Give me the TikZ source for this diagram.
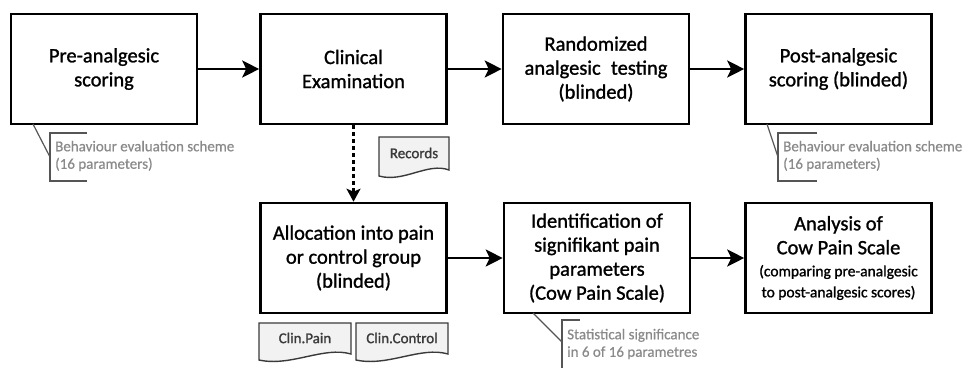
\documentclass[tikz,border=0pt]{standalone}
\usepackage{fontspec}
\setmainfont{Carlito}
\newfontfamily\heavyfont{Carlito}[FakeBold=1.2]
\newfontfamily\midfont{Carlito}[FakeBold=0.6]
\usetikzlibrary{arrows.meta}
\definecolor{anno}{HTML}{8A8A8A}
\definecolor{brk}{HTML}{555555}
\definecolor{docfill}{HTML}{F2F2F2}
\definecolor{docline}{HTML}{3A3A3A}
\newcommand\docpath[4]{%
  \path[draw=docline, fill=docfill, line width=1.4pt]
    (#1,#2) -- (#3,#2) -- (#3,{#4+1})
    .. controls ({#3-0.3*(#3-#1)},{#4-7}) and ({#1+0.35*(#3-#1)},{#4+14}) ..
    (#1,{#4+7}) -- cycle;}
\begin{document}
\begin{tikzpicture}[x=1pt,y=-1pt,
  box/.style={draw, line width=2.6pt, minimum width=186pt, minimum height=110pt,
    inner sep=0pt, align=center, font=\heavyfont\fontsize{20.5}{24}\selectfont},
  flow/.style={line width=2.2pt, -{Stealth[length=17pt,width=17pt,inset=4pt]}},
  dflow/.style={line width=2.2pt, dash pattern=on 4pt off 3pt,
    -{Stealth[length=13pt,width=14pt,inset=3pt]}},
  annotext/.style={anchor=west, align=left, inner sep=0pt, text=anno,
    font=\midfont\fontsize{15}{17.5}\selectfont},
  annoline/.style={draw=brk, line width=1.2pt},
  doclabel/.style={inner sep=0pt, text=docline, font=\heavyfont\fontsize{15}{17}\selectfont}
]
\useasboundingbox (0,0) rectangle (973,367);

% top row
\node[box] (pre)  at (104,69)   {Pre-analgesic\\scoring};
\node[box] (clin) at (353.5,69) {Clinical\\Examination};
\node[box] (rand) at (596,69)   {Randomized\\analgesic\enspace testing\\(blinded)};
\node[box] (post) at (838.5,69) {Post-analgesic\\scoring (blinded)};

% bottom row
\node[box] (alloc) at (353.5,258) {Allocation into pain\\or control group\\(blinded)};
\node[box] (ident) at (597,258) {Identification of\\signifikant pain\\parameters\\(Cow Pain Scale)};
\node[box] (anal)  at (838.5,258) {Analysis of\\Cow Pain Scale\\[-2pt]
  {\fontsize{15.5}{21}\selectfont (comparing pre-analgesic}\\[-3pt]
  {\fontsize{15.5}{21}\selectfont to post-analgesic scores)}};

% connectors
\draw[flow] (pre) -- (clin);
\draw[flow] (clin) -- (rand);
\draw[flow] (rand) -- (post);
\draw[dflow] (clin.south) -- (alloc.north);
\draw[flow] (alloc) -- (ident);
\draw[flow] (ident) -- (anal);

% documents
\docpath{379}{137}{449}{169}
\node[doclabel] (rec) at (414,153) {Records};
\docpath{259}{323}{351}{353}
\node[doclabel] (cpain) at (305,338) {Clin.Pain};
\docpath{356}{323}{448}{353}
\node[doclabel] (cctrl) at (402,338) {Clin.Control};

% annotation: pre-analgesic
\coordinate (a1) at (33,124);
\coordinate (b1) at (50,157);
\draw[annoline] (a1) -- (b1);
\draw[annoline] (87,133) -- (50,133) -- (50,181) -- (87,181);
\node[annotext] (t1) at (55,156) {Behaviour evaluation scheme\\(16 parameters)};

% annotation: post-analgesic
\coordinate (a2) at (767,124);
\coordinate (b2) at (778,157);
\draw[annoline] (a2) -- (b2);
\draw[annoline] (817,133) -- (778,133) -- (778,181) -- (817,181);
\node[annotext] (t2) at (783,156) {Behaviour evaluation scheme\\(16 parameters)};

% annotation: statistical significance
\coordinate (a3) at (533,313);
\coordinate (b3) at (562,342);
\draw[annoline] (a3) -- (b3);
\draw[annoline] (580,320) -- (562,320) -- (562,375);
\node[annotext] (t3) at (567,344) {Statistical significance\\in 6 of 16 parametres};
\end{tikzpicture}
\end{document}
